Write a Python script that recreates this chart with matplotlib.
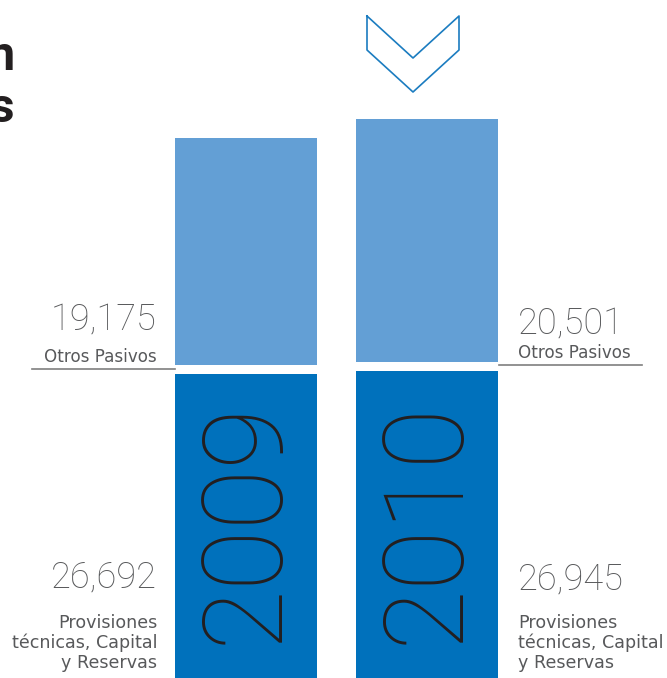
import matplotlib.pyplot as plt
import matplotlib.transforms as mtransforms
from matplotlib.lines import Line2D

# data
years = ["2009", "2010"]
provisiones = [26692, 26945]      # Provisiones técnicas, Capital y Reservas
otros_pasivos = [19175, 20501]    # Otros Pasivos
lbl_top = "Otros Pasivos"
lbl_bottom = "Provisiones\ntécnicas, Capital\ny Reservas"

W, H = 667, 678
dark_blue = "#0071bc"
light_blue = "#639fd5"
grey_txt = "#58595b"
black_txt = "#231f20"

plt.rcParams['font.family'] = ['Roboto', 'DejaVu Sans']

fig = plt.figure(figsize=(W / 100, H / 100), dpi=100)
ax = fig.add_axes([0, 0, 1, 1])
ax.set_axis_off()


def px(x, y):
    # pixel position -> figure fraction
    return x / W, 1 - y / H


# bars: value axis scaled so the baseline sits a little below the picture
units_per_px = 84.4
gap = 9 * units_per_px
xs = range(len(years))
ax.bar(xs, provisiones, width=0.782, color=dark_blue)
ax.bar(xs, otros_pasivos, width=0.782, color=light_blue,
       bottom=[p + gap for p in provisiones])
ax.set_xlim(-1.355, 2.32)
ax.set_ylim(12 * units_per_px, (H + 12) * units_per_px)

# year inside dark bars
blend = mtransforms.blended_transform_factory(ax.transData, fig.transFigure)
for i, yr in enumerate(years):
    ax.text(i, 1 - 522 / H, yr, transform=blend, rotation=90,
            ha='center', va='center', fontsize=80, fontweight='light',
            color=black_txt)

# value labels, left side (2009) and right side (2010)
side = [dict(x=157, ha='right', y_top=316, y_lbl=355, line=(32, 175, 369), y_bot=573),
        dict(x=518, ha='left', y_top=320, y_lbl=351, line=(499, 642, 365), y_bot=575)]
small = dict(family='DejaVu Sans', color=grey_txt)
for i, s in enumerate(side):
    fig.text(*px(s['x'], s['y_top']), f"{otros_pasivos[i]:,}", ha=s['ha'],
             va='center_baseline', fontsize=26, fontweight='light', color=grey_txt)
    fig.text(*px(s['x'], s['y_lbl']), lbl_top, ha=s['ha'], va='center_baseline',
             fontsize=12.1, **small)
    x0, x1, yl = s['line']
    fig.add_artist(Line2D([x0 / W, x1 / W], [1 - yl / H] * 2,
                          transform=fig.transFigure, color="#7f7f7f", lw=1.2))
    fig.text(*px(s['x'], s['y_bot']), f"{provisiones[i]:,}", ha=s['ha'],
             va='center_baseline', fontsize=26, fontweight='light', color=grey_txt)
    fig.text(*px(s['x'], 614), lbl_bottom, ha=s['ha'], va='top',
             fontsize=12.6, linespacing=1.13, multialignment=s['ha'], **small)

# title, cut off on the left edge as in the source layout
fig.text(*px(15, 70), "Composición", ha='right', va='baseline',
         fontsize=35, fontweight='bold', color=black_txt)
fig.text(*px(15, 122), "de Pasivos", ha='right', va='baseline',
         fontsize=35, fontweight='bold', color=black_txt)

# chevron marker above 2010
chev = [(367, 16), (413, 58), (459, 16), (459, 50), (413, 92), (367, 50), (367, 16)]
fig.add_artist(Line2D([p[0] / W for p in chev], [1 - p[1] / H for p in chev],
                      transform=fig.transFigure, color="#1b7cc0", lw=1.2))

fig.savefig("out.png", dpi=100)
